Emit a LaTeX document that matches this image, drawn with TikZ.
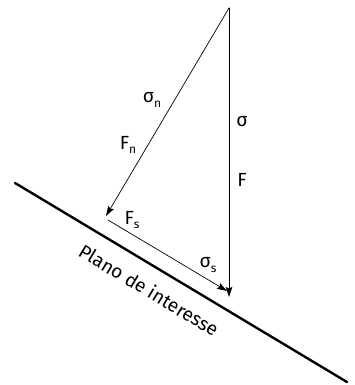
\documentclass[tikz,border=0pt]{standalone}
\usepackage{fontspec}
\setmainfont{Fira Sans}
\usetikzlibrary{arrows.meta}
\newcommand\idx[1]{\raisebox{-0.45ex}{\fontsize{12}{13}\selectfont #1}}
\begin{document}
\begin{tikzpicture}[x=1pt, y=-1pt, line join=round, line cap=round, >={Stealth[length=10pt,width=6.5pt,inset=1.5pt]}]
	\tikzset{lbl/.style={font=\fontsize{19}{22}\selectfont, inner sep=0pt},
		vec/.style={->, line width=0.7pt}
	}
	\useasboundingbox (0,0) rectangle (354,385);
	% points
	\coordinate (top) at (229,8);
	\coordinate (ftip) at (229,297);
	\coordinate (ntip) at (106,216);
	\coordinate (stail) at (108,220);
	\coordinate (stip) at (227,291);
	\coordinate (pa) at (15,183);
	\coordinate (pb) at (347,382);
	% plane
	\draw[line width=2.4pt] (pa) -- (pb);
	\node[lbl, rotate=-31] (plane) at (149,290) {Plano de interesse};
	% vectors
	\draw[vec] (top) -- (ftip);
	\draw[vec] (top) -- (ntip);
	\draw[vec] (stail) -- (stip);
	% labels
	\node[lbl] (sn) at (152,100) {σ\idx{n}};
	\node[lbl] (fn) at (128,145) {F\idx{n}};
	\node[lbl] (s) at (242,122) {σ};
	\node[lbl] (f) at (242,180) {F};
	\node[lbl] (fs) at (132,220) {F\idx{s}};
	\node[lbl] (ss) at (208,265) {σ\idx{s}};
\end{tikzpicture}
\end{document}
